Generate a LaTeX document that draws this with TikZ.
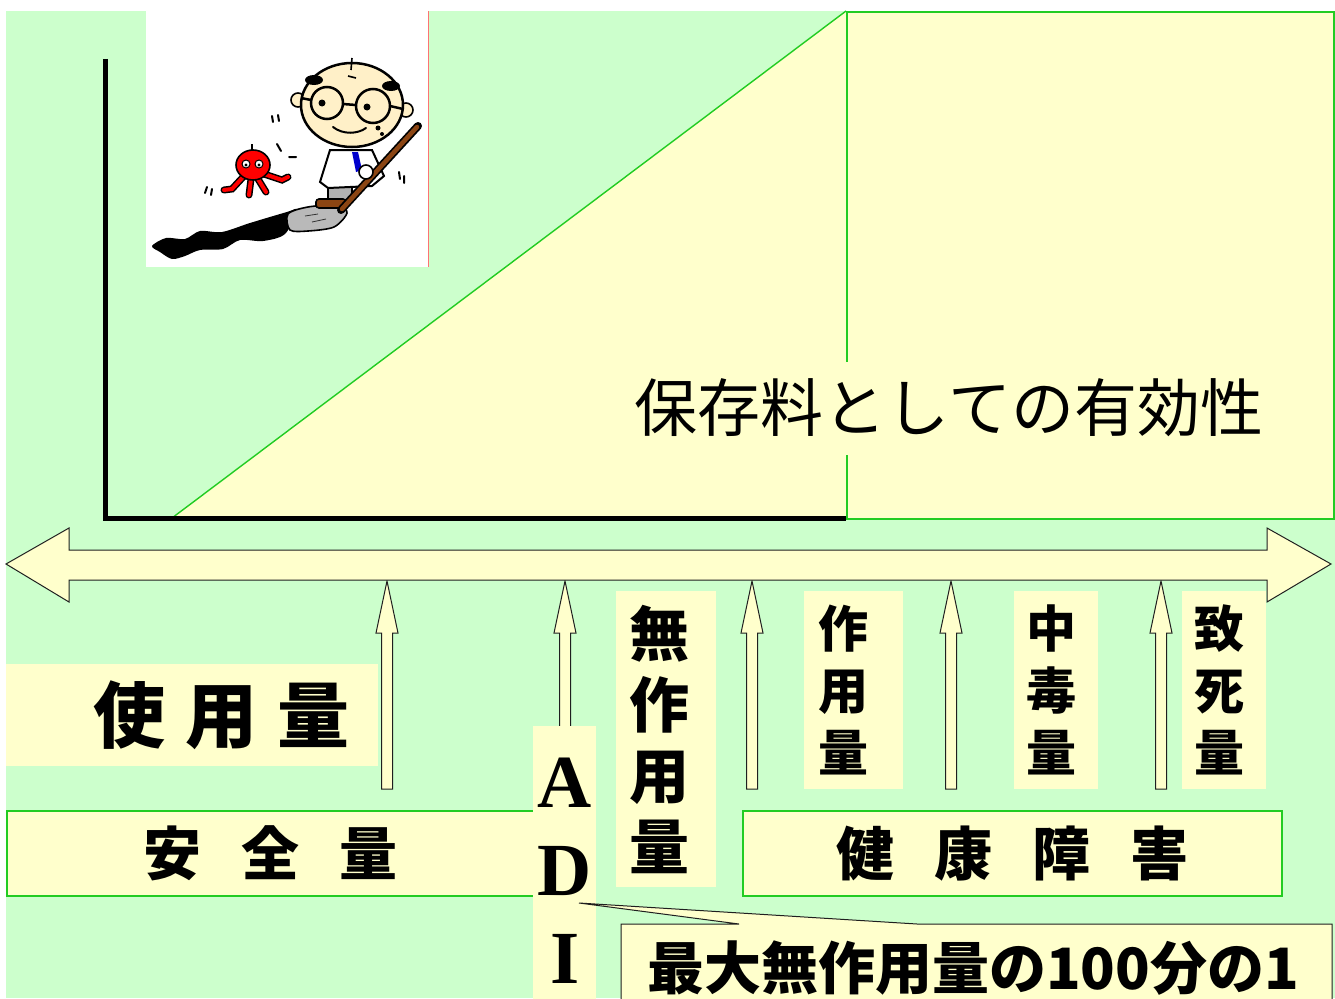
\documentclass[tikz,border=0pt]{standalone}
\usepackage{fontspec}
\setmainfont{Liberation Serif}
\newfontfamily\jp{Noto Sans CJK JP}
\usepackage{xcolor}
\usepackage{tikz}
\definecolor{meadow}{HTML}{CCFFCC}
\definecolor{cream}{HTML}{FFFFCC}
\definecolor{leafline}{HTML}{22CC22}
\definecolor{ink}{HTML}{1F1F1F}
\definecolor{skin}{HTML}{FFF0C8}
\definecolor{wood}{HTML}{8B4513}
\tikzset{
  pad/.style={fill=cream,inner sep=0pt},
  framed/.style={pad,draw=leafline,line width=1.7pt},
  blockarrow/.style={fill=cream,draw=ink,line width=1pt,line join=miter},
  bigjp/.style={font={\fontsize{#1}{#1}\selectfont\jp\bfseries}},
  stackjp/.style 2 args={align=left,font={\fontsize{#1}{#2}\selectfont\jp\bfseries}},
  outl/.style={draw=black,line width=1.6pt},
}
\begin{document}
\begin{tikzpicture}[x=1pt,y=-1pt]
  \useasboundingbox(0,0)rectangle(1335,998);
  \fill[meadow](6,11)rectangle(1335,998);
  % cartoon panel
  \fill[white](146,11)rectangle(428,267);
  \draw[red!55,line width=1pt](428,11)--(428,267);
  \fill[black]plot[smooth cycle]coordinates{(152,246)(166,238)(185,239)(200,231)
    (222,232)(250,223)(287,212)(297,210)(285,234)(263,241)(240,240)(223,249)
    (200,250)(185,256)(172,259)(160,252)};
  \filldraw[fill=gray!55,outl]plot[smooth cycle]coordinates{(288,214)(308,207)
    (338,205)(347,213)(334,227)(308,231)(290,230)};
  \draw[gray!40!black,line width=0.8pt](305,216)--(318,214)(312,222)--(326,219);
  \filldraw[fill=gray!60,outl](328,184)rectangle(352,200);
  \filldraw[fill=wood,outl,rounded corners=3pt](316,199)rectangle(346,208);
  \filldraw[fill=white,draw=black,line width=2pt](330,150)--(372,150)--(384,176)
    --(372,186)--(328,188)--(320,182)--cycle;
  \fill[blue!80!black](352,152)--(358,152)--(362,170)--(356,172)--cycle;
  \draw[black,line width=8pt,line cap=round](418,126)--(341,210);
  \draw[wood,line width=4.5pt,line cap=round](417,127)--(342,209);
  \filldraw[fill=white,outl](366,172)circle(7);
  \filldraw[fill=skin,outl](298,100)circle(7)(406,110)circle(7);
  \filldraw[fill=skin,draw=black,line width=2.5pt](352,105)ellipse[x radius=51,y radius=42];
  \fill[black](314,80)ellipse[x radius=9,y radius=5](391,86)ellipse[x radius=9,y radius=5];
  \draw[line width=1.6pt](352,58)--(351,70)(348,76)--(356,78);
  \draw[line width=2.5pt](327,103)circle(16)(373,106)circle(17)
    (343,104)--(356,105)(311,100)--(301,98)(390,106)--(403,109);
  \fill[black](322,103)circle(3.5)(367,107)circle(3.5);
  \draw[line width=2pt,line cap=round](333,127)..controls(343,135)and(358,134)..(366,128);
  \fill[black](378,128)circle(2.5)(382,134)circle(2);
  % octopus
  \draw[black,line width=7pt,line cap=round](244,176)--(232,189)--(224,190)
    (251,179)--(249,195)(258,179)--(266,192)(264,174)--(282,180)--(288,177);
  \draw[red,line width=4pt,line cap=round](244,176)--(232,189)--(224,190)
    (251,179)--(249,195)(258,179)--(266,192)(264,174)--(282,180)--(288,177);
  \filldraw[fill=red,outl](253,165)ellipse[x radius=17,y radius=15];
  \draw[line width=1.6pt](252,150)--(252,144);
  \filldraw[fill=white,draw=black,line width=1pt](246,164)circle(4)(259,164)circle(4);
  \fill[black](246,165)circle(1.6)(259,165)circle(1.6);
  % sweat marks
  \draw[line width=2pt,line cap=round](272,116)--(273,122)(278,115)--(279,121)
    (277,144)--(281,151)(289,157)--(296,157)(207,187)--(205,193)(212,189)--(211,195)
    (399,172)--(400,179)(404,176)--(404,183);
  % effectiveness region
  \fill[cream](172,518)--(846,11)--(846,518)--cycle;
  \draw[leafline,line width=1.4pt](172,518)--(846,11);
  \node[framed,minimum width=487,minimum height=507,anchor=north west](eff)at(846,11){};
  \draw[black,line width=5pt](105,59)--(105,518)--(846,518);
  \node[pad,inner xsep=12pt,minimum height=93,
        font={\fontsize{63}{63}\selectfont\jp}](effl)at(949,408){保存料としての有効性};
  % dose scale
  \foreach \x in {387,565,752,951,1161}
    \draw[blockarrow](\x,581)--(\x+11,633)--(\x+5.5,633)--(\x+5.5,789)
      --(\x-5.5,789)--(\x-5.5,633)--(\x-11,633)--cycle;
  \draw[blockarrow](6,564)--(69,528)--(69,550)--(1267,550)--(1267,528)--(1331,564)
    --(1267,602)--(1267,580)--(69,580)--(69,602)--cycle;
  \node[pad,bigjp=72,text width=314,align=right,inner xsep=29pt,minimum height=102,
        anchor=north west](shiyo)at(6,664){使\hspace{20pt}用\hspace{20pt}量};
  \node[framed,bigjp=58,minimum width=527,minimum height=85,anchor=north west]
    (anzen)at(6,810){安\hspace{40pt}全\hspace{40pt}量};
  \node[framed,bigjp=58,minimum width=539,minimum height=85,anchor=north west]
    (kenko)at(742,810){健\hspace{40pt}康\hspace{40pt}障\hspace{40pt}害};
  \node[pad,stackjp={60}{71},text width=74,inner xsep=13pt,minimum height=296,
        anchor=north west](muse)at(616,591){無\\作\\用\\量};
  \node[pad,stackjp={50}{62},text width=71,inner xsep=14pt,minimum height=198,
        anchor=north west](sayo)at(804,591){作\\用\\量};
  \node[pad,stackjp={50}{62},text width=60,inner xsep=12pt,minimum height=198,
        anchor=north west](chudoku)at(1014,591){中\\毒\\量};
  \node[pad,stackjp={50}{62},text width=60,inner xsep=12pt,minimum height=198,
        anchor=north west](chishi)at(1182,591){致\\死\\量};
  \node[pad,align=center,font={\fontsize{75}{88}\selectfont\bfseries},
        minimum width=63,minimum height=290,anchor=north west](adi)at(533,726){A\\D\\I};
  % callout
  \filldraw[fill=cream,draw=ink,line width=1pt](621,924)--(739,924)--(579,903)
    --(917,924)--(1332,924)--(1332,1006)--(621,1006)--cycle;
  \node[bigjp=57,inner sep=0pt](saidai)at(973,968){最大無作用量の100分の1};
\end{tikzpicture}
\end{document}
